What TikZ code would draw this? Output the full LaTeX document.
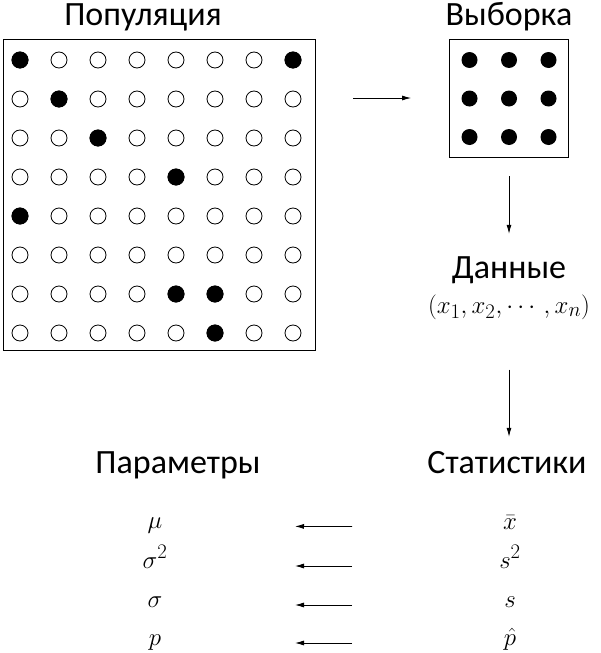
\documentclass[tikz,border=0pt]{standalone}
\usepackage{fontspec}
\usepackage{amsmath}
\setmainfont{Carlito}
\usetikzlibrary{arrows.meta, positioning}

\begin{document}
\begin{tikzpicture}[
  x=1pt, y=-1pt,
  title/.style={font=\fontsize{34}{38}\selectfont, inner sep=0pt, text height=24pt, text depth=8pt},
  sym/.style={font=\fontsize{29}{33}\selectfont, inner sep=0pt, anchor=base},
  frame/.style={draw, line width=0.9pt, inner sep=0pt},
  arr/.style={-{Latex[length=9pt, width=5pt]}, line width=0.8pt},
  dot/.style={line width=0.8pt},
]
\useasboundingbox (0,0) rectangle (600,653);

% Population
\node[title] (poptitle) at (143,17) {Популяция};
\node[frame, minimum width=312pt, minimum height=311pt] (pop) at (159,194.5) {};
\foreach \r in {1,...,8}
  \foreach \c in {1,...,8}
    \draw[dot] ({20+39*(\c-1)},{60+39*(\r-1)}) circle (8);
\foreach \c/\r in {1/1, 8/1, 2/2, 3/3, 5/4, 1/5, 5/7, 6/7, 6/8}
  \fill ({20+39*(\c-1)},{60+39*(\r-1)}) circle (8.5);

% Sample
\node[title] (samptitle) at (509,17) {Выборка};
\node[frame, minimum width=119pt, minimum height=118pt] (samp) at (509,98) {};
\foreach \r in {1,...,3}
  \foreach \c in {1,...,3}
    \fill ({469.5+39.5*(\c-1)},{60+38.5*(\r-1)}) circle (8);
\draw[arr, shorten <=38pt, shorten >=38pt] (pop.east |- samp.west) -- (samp.west);

% Data
\node[title] (data) at (509,270) {Данные};
\node[sym, anchor=center] (xs) at (509,307) {$(x_1, x_2, \cdots, x_n)$};
\draw[arr, shorten <=19pt, shorten >=20pt] (samp.south) -- (data.north);

% Parameters and statistics
\node[title] (par) at (178,465) {Параметры};
\node[title] (stat) at (507,465) {Статистики};
\draw[arr, shorten <=50pt, shorten >=12pt] (xs.south) -- (xs.south |- stat.north);

\node[sym] (mu) at (155,528) {$\mu$};
\node[sym] (sig2) at (155,568) {$\sigma^2$};
\node[sym] (sig) at (155,607) {$\sigma$};
\node[sym] (p) at (155,645) {$p$};
\node[sym] (xbar) at (510,529) {$\bar{x}$};
\node[sym] (s2) at (510,568) {$s^2$};
\node[sym] (s) at (510,607) {$s$};
\node[sym] (phat) at (510,645) {$\hat{p}$};

\foreach \a/\b in {xbar/mu, s2/sig2, s/sig, phat/p}
  \draw[arr, shorten <=158pt, shorten >=140pt] ([yshift=2pt]\a.base -| xbar) -- ([yshift=2pt]\b.base -| mu);

\end{tikzpicture}
\end{document}
